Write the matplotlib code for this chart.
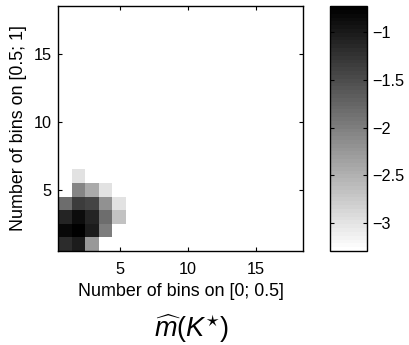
import numpy as np
import matplotlib
matplotlib.use("Agg")
import matplotlib.pyplot as plt

plt.rcParams['font.family'] = ['Liberation Sans', 'DejaVu Sans']
plt.rcParams['mathtext.fontset'] = 'custom'
plt.rcParams['mathtext.it'] = 'Liberation Sans:italic'
plt.rcParams['mathtext.rm'] = 'Liberation Sans'

n_bins = 18
# log-scale estimates per (bins on [0.5;1], bins on [0;0.5]); rest is undefined
row1 = [-1.21, -1.05, -2.26]
row2 = [-0.83, -0.73, -1.05, -2.01]
row3 = [-1.10, -0.89, -1.10, -1.85, -2.66]
row4 = [-1.85, -1.37, -1.45, -2.18, -2.98]
row5 = [np.nan, -2.09, -2.42, -2.98]
row6 = [np.nan, -2.98]
rows = [row1, row2, row3, row4, row5, row6]
clim = (-3.29, -0.73)
cbar_ticks = [-1, -1.5, -2, -2.5, -3]
axis_ticks = [5, 10, 15]

grid = np.full((n_bins, n_bins), np.nan)
for i, r in enumerate(rows):
    grid[i, :len(r)] = r

fig = plt.figure(figsize=(4.09, 3.45), dpi=100)
ax = fig.add_axes([0.143, 0.2725, 0.598, 0.710])
cax = fig.add_axes([0.807, 0.2725, 0.0905, 0.710])

cmap = plt.get_cmap('gray_r', 64).copy()
cmap.set_bad('white')
im = ax.imshow(np.ma.masked_invalid(grid), origin='lower', cmap=cmap,
               vmin=clim[0], vmax=clim[1], interpolation='nearest',
               extent=(0.5, n_bins + 0.5, 0.5, n_bins + 0.5), aspect='auto')
ax.set_xticks(axis_ticks)
ax.set_yticks(axis_ticks)
ax.tick_params(direction='in', length=3, width=0.8, top=True, right=True,
               labelsize=11.7)
ax.tick_params(axis='x', pad=8)
ax.tick_params(axis='y', pad=5)
for s in ax.spines.values():
    s.set_linewidth(1.0)
ax.set_xlabel('Number of bins on [0; 0.5]', fontsize=12.9, labelpad=4)
ax.set_ylabel('Number of bins on [0.5; 1]', fontsize=12.9, labelpad=5)

cb = fig.colorbar(im, cax=cax, ticks=cbar_ticks)
cb.ax.set_yticklabels(['\u22121', '\u22121.5', '\u22122', '\u22122.5', '\u22123'])
cb.ax.tick_params(direction='in', length=3, width=0.8, left=True, right=True,
                  labelsize=11.7, pad=4)
cb.outline.set_linewidth(1.0)

fig.text(191 / 409, 0.048, r'$\widehat{m}(K^{\star})$', ha='center', va='center',
         fontsize=19.5)

fig.savefig('out.png', dpi=100)
